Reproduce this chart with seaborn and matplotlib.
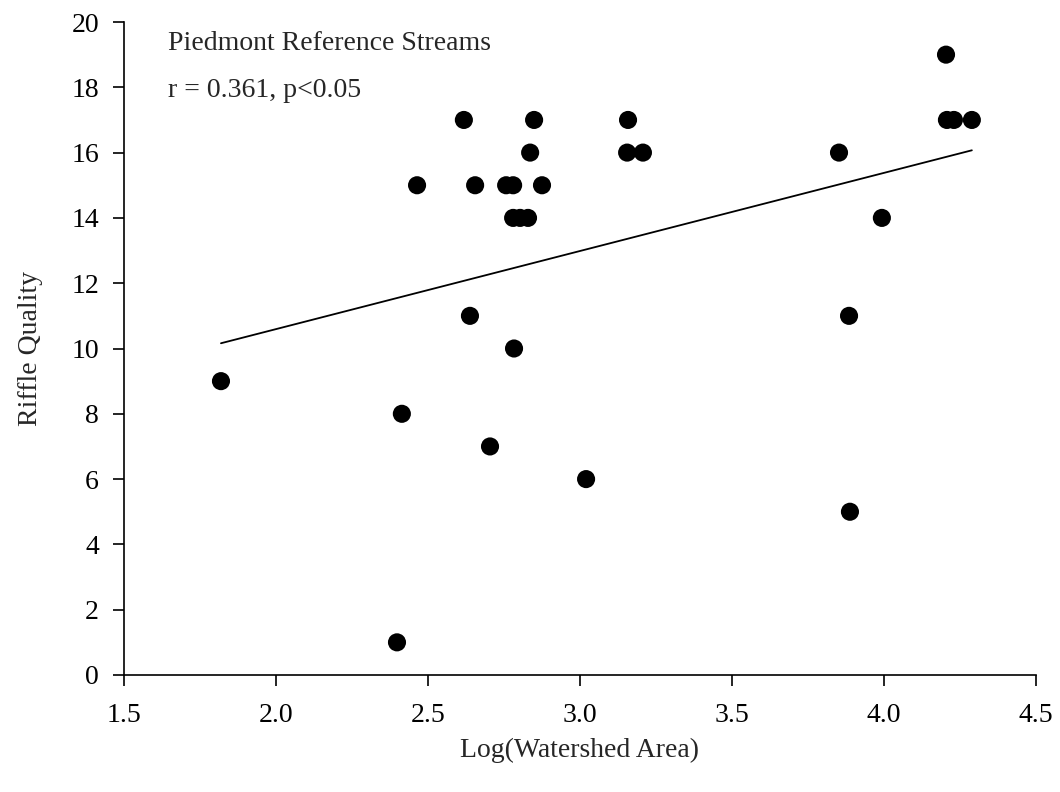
import numpy as np
import pandas as pd
import matplotlib
matplotlib.use("Agg")
import matplotlib.pyplot as plt
import seaborn as sns

# Piedmont reference streams: log watershed area vs riffle quality score
log_area = [
    1.819, 2.398, 2.414, 2.464, 2.618, 2.638, 2.655, 2.704, 2.757, 2.780,
    2.780, 2.783, 2.803, 2.829, 2.836, 2.849, 2.875, 3.020, 3.158, 3.155,
    3.207, 3.852, 3.885, 3.888, 3.993, 4.204, 4.207, 4.230, 4.289,
]
riffle_quality = [
    9, 1, 8, 15, 17, 11, 15, 7, 15, 15,
    14, 10, 14, 14, 16, 17, 15, 6, 17, 16,
    16, 16, 11, 5, 14, 19, 17, 17, 17,
]
x_ticks = [1.5, 2.0, 2.5, 3.0, 3.5, 4.0, 4.5]
y_ticks = [0, 2, 4, 6, 8, 10, 12, 14, 16, 18, 20]

df = pd.DataFrame({"log_area": log_area, "riffle": riffle_quality})

sns.set_style("white")
plt.rcParams["font.family"] = ["Liberation Serif", "DejaVu Serif"]

fig = plt.figure(figsize=(10.6, 7.92), dpi=100, facecolor="white")
ax = fig.add_axes([124 / 1060, 1 - 675 / 792, (1036 - 124) / 1060, (675 - 22) / 792])

sns.regplot(
    data=df,
    x="log_area",
    y="riffle",
    ci=None,
    ax=ax,
    scatter_kws={"s": 170, "color": "black", "edgecolor": "none", "alpha": 1},
    line_kws={"color": "black", "lw": 1.3},
)

ax.set_xlim(1.5, 4.5)
ax.set_ylim(0, 20)
ax.set_xticks(x_ticks)
ax.set_xticklabels([f"{v:.1f}" for v in x_ticks])
ax.set_yticks(y_ticks)
ax.tick_params(axis="both", direction="out", length=8, width=1.2, labelsize=20,
               colors="black", bottom=True, left=True)
ax.tick_params(axis="x", pad=12)
ax.tick_params(axis="y", pad=10)
ax.spines["right"].set_visible(False)
ax.spines["top"].set_visible(False)
for s in ["left", "bottom"]:
    ax.spines[s].set_color("black")
    ax.spines[s].set_linewidth(1.2)

ax.set_xlabel("Log(Watershed Area)", fontsize=20, labelpad=7)
ax.set_ylabel("Riffle Quality", fontsize=20, labelpad=20)

ax.text(1.645, 19.35, "Piedmont Reference Streams", fontsize=20, ha="left", va="center")
ax.text(1.645, 17.9, "r = 0.361, p<0.05", fontsize=20, ha="left", va="center")

fig.savefig("out.png", dpi=100, facecolor="white")
